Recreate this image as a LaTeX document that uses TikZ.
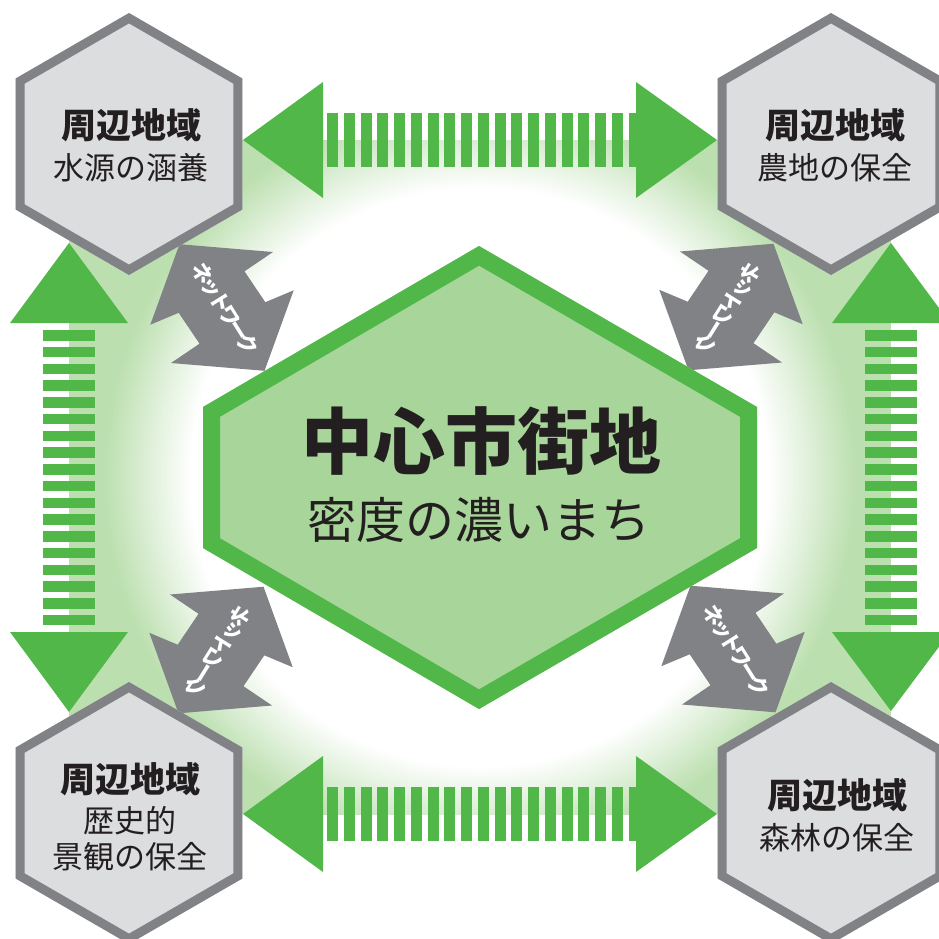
\documentclass[tikz,border=0pt]{standalone}
\usepackage{fontspec}
\newfontfamily\jp{Noto Sans CJK JP}
\definecolor{gbright}{RGB}{80,183,72}
\definecolor{gpale}{RGB}{168,214,154}
\definecolor{gglow}{RGB}{187,223,174}
\definecolor{hexfill}{RGB}{220,221,223}
\definecolor{hexline}{RGB}{128,130,133}
\definecolor{netgray}{RGB}{128,130,133}
\definecolor{txt}{RGB}{35,31,32}
\tikzset{
  garrow/.style={fill=gbright},
  hexbig/.style={text=txt, inner sep=0pt, font=\jp\bfseries\fontsize{35}{35}\selectfont},
  hexsmall/.style={text=txt, inner sep=0pt, font=\jp\fontsize{31}{31}\selectfont},
  nettext/.style={text=white, inner sep=0pt, font=\jp\bfseries\fontsize{21}{21}\selectfont\addfontfeatures{LetterSpace=-20}},
  grayhex/.pic={
    \begin{scope}
      \clip (0,-131) -- (113.4,-65.5) -- (113.4,65.5) -- (0,131) -- (-113.4,65.5) -- (-113.4,-65.5) -- cycle;
      \fill[hexfill] (-120,-140) rectangle (120,140);
      \draw[hexline, line width=18] (0,-131) -- (113.4,-65.5) -- (113.4,65.5) -- (0,131) -- (-113.4,65.5) -- (-113.4,-65.5) -- cycle;
    \end{scope}
  },
  netarrow/.pic={
    \fill[netgray] (-42.5,-63.3) -- (51,-55.5) -- (22.5,-36.2) -- (43.3,-5.3) -- (71.7,-17.2)
      -- (42.5,63.3) -- (-51,55.5) -- (-22.5,36.2) -- (-43.3,5.3) -- (-71.7,17.2) -- cycle;
    \node[nettext, rotate=-58, transform shape] (-label) at (3,1.5) {ネットワーク};
  }
}
\begin{document}
\begin{tikzpicture}[x=1pt,y=-1pt]
\useasboundingbox (0,0) rectangle (939,938);
\clip (0,0) rectangle (939,938);

% centres
\coordinate (TL) at (129,144);
\coordinate (TR) at (831,144);
\coordinate (BL) at (129,813);
\coordinate (BR) at (831,813);
\coordinate (C) at (480,477.5);

% glow band
\begin{scope}
  \clip (69,140) rectangle (891,814);
  \fill[gglow] (69,140) rectangle (891,814);
  \foreach \i in {0,...,50} {
    \pgfmathsetmacro\r{378-\i*1.76}
    \pgfmathtruncatemacro\p{100-2*\i}
    \fill[gglow!\p!white] (C) circle[radius=\r pt];
  }
\end{scope}

% green double arrows: stripes
\foreach \k in {0,...,18} {
  \fill[garrow] ({327+16.75*\k},113) rectangle ++(11,54);
  \fill[garrow] ({327+16.75*\k},787) rectangle ++(11,54);
}
\foreach \k in {0,...,17} {
  \fill[garrow] (43,{330+16.75*\k}) rectangle ++(52,10.5);
  \fill[garrow] (865,{330+16.75*\k}) rectangle ++(52,10.5);
}
% heads
\fill[garrow] (243,140) -- (323,82) -- (323,198) -- cycle;
\fill[garrow] (717,140) -- (636,82) -- (636,198) -- cycle;
\fill[garrow] (243,814) -- (323,756) -- (323,872) -- cycle;
\fill[garrow] (717,814) -- (636,756) -- (636,872) -- cycle;
\fill[garrow] (69,243) -- (10,323) -- (128,323) -- cycle;
\fill[garrow] (69,712) -- (10,632) -- (128,632) -- cycle;
\fill[garrow] (891,243) -- (832,323) -- (950,323) -- cycle;
\fill[garrow] (891,711) -- (832,632) -- (950,632) -- cycle;

% network arrows
\pic (n1) at (222,307.5) {netarrow};
\pic[xscale=-1] (n2) at (731,307) {netarrow};
\pic[xscale=-1] (n3) at (221,650) {netarrow};
\pic (n4) at (733,649) {netarrow};

% corner hexagons
\pic at (TL) {grayhex};
\pic at (TR) {grayhex};
\pic at (BL) {grayhex};
\pic at (BR) {grayhex};

% central hexagon
\begin{scope}
  \clip (203,407) -- (479,246) -- (757,407) -- (757,548) -- (479,709) -- (203,548) -- cycle;
  \fill[gpale] (190,240) rectangle (770,715);
  \draw[gbright, line width=34] (203,407) -- (479,246) -- (757,407) -- (757,548) -- (479,709) -- (203,548) -- cycle;
\end{scope}

% texts
\node[hexbig] (tl1) at (131,125) {周辺地域};
\node[hexsmall] (tl2) at (131,168) {水源の涵養};
\node[hexbig] (tr1) at (835,125) {周辺地域};
\node[hexsmall] (tr2) at (835,168) {農地の保全};
\node[hexbig] (bl1) at (130,779) {周辺地域};
\node[hexsmall] (bl2) at (130,820.5) {歴史的};
\node[hexsmall] (bl3) at (130,856.5) {景観の保全};
\node[hexbig] (br1) at (837,795) {周辺地域};
\node[hexsmall] (br2) at (837,837.5) {森林の保全};
\node[text=txt, inner sep=0pt, font=\jp\bfseries\fontsize{72}{72}\selectfont] (c1) at (481.5,441.5) {中心市街地};
\node[text=txt, inner sep=0pt, font=\jp\fontsize{49}{49}\selectfont] (c2) at (479,520) {密度の濃いまち};
\end{tikzpicture}
\end{document}
